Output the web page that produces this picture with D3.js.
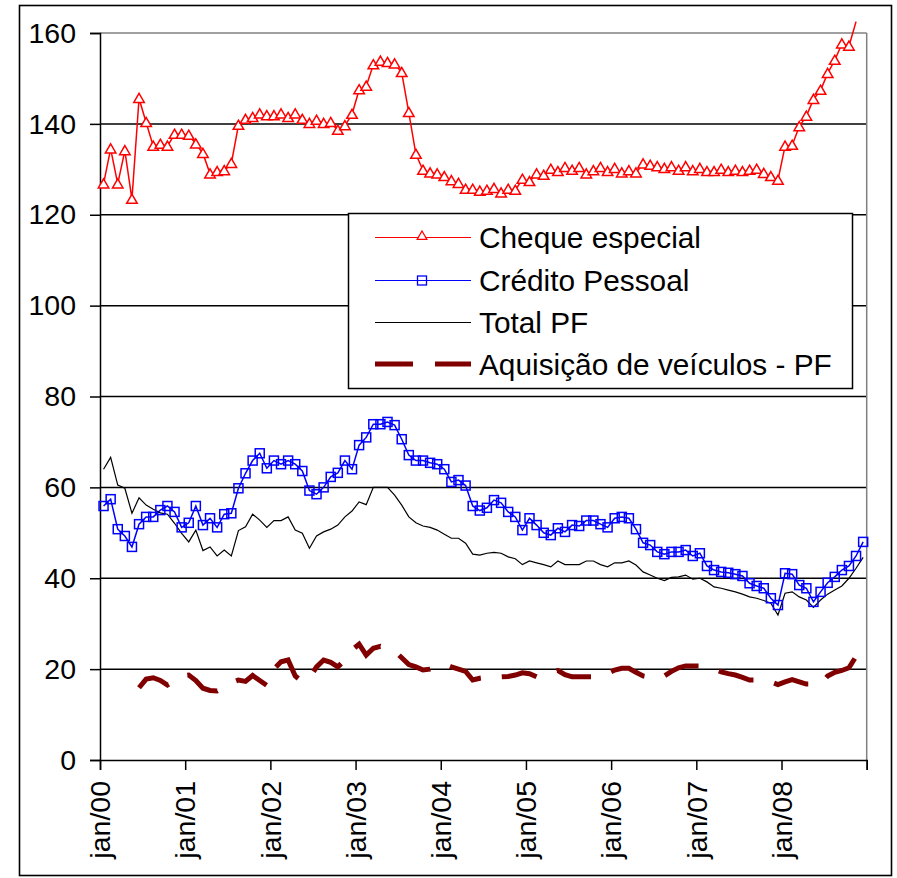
<!DOCTYPE html>
<html><head><meta charset="utf-8">
<script src="https://cdn.jsdelivr.net/npm/d3@7"></script>
<style>
html,body{margin:0;padding:0;background:#fff;}
text{font-family:"Liberation Sans",Arial,sans-serif;}
</style></head>
<body>
<svg id="chart" width="897" height="878"></svg>
<script>
// ---- data ----
const nMonths = 108;
const tickLabels = ["jan/00","jan/01","jan/02","jan/03","jan/04","jan/05","jan/06","jan/07","jan/08"];
const yTicks = [0,20,40,60,80,100,120,140,160];
const seriesNames = ["Cheque especial","Crédito Pessoal","Total PF","Aquisição de veículos - PF"];

// Cheque especial, jan/00 onward (last point beyond 160)
const chequeEspecial = [126.8,134.5,126.8,134.1,123.4,145.6,140.3,135.1,135.5,135.1,137.7,137.7,
137.5,135.6,133.5,129.0,129.5,129.7,131.3,139.7,141.0,141.4,142.2,141.8,
141.8,142.2,141.4,142.2,141.0,140.1,140.8,140.1,140.3,138.6,139.6,142.1,
147.5,148.3,153.0,153.8,153.5,153.2,151.3,142.5,133.3,129.8,129.2,129.0,
128.4,127.5,126.9,125.6,125.6,125.2,125.4,125.8,124.8,125.6,125.4,127.8,
127.3,129.0,128.7,130.0,129.5,130.4,129.8,130.4,129.0,129.7,130.4,129.5,
130.2,129.2,129.7,129.2,131.2,130.9,130.6,130.2,130.6,129.8,130.6,129.7,
130.2,129.5,129.5,130.0,129.5,129.8,129.5,129.8,130.0,129.1,128.4,127.6,
135.1,135.3,139.4,141.7,145.4,147.4,151.1,154.0,157.6,157.1,162.5];

const creditoPessoal = [55.9,57.4,50.8,49.3,46.9,51.9,53.5,53.5,55.0,55.9,54.6,51.2,
52.2,55.9,51.7,53.2,51.2,54.1,54.3,59.8,63.1,65.9,67.5,64.2,
65.9,65.1,65.9,65.1,63.6,59.3,58.5,60.0,62.3,63.2,65.9,64.0,
69.3,71.0,73.9,73.9,74.4,73.7,70.6,67.1,65.9,65.9,65.4,65.1,
64.0,61.2,61.6,60.4,55.9,54.9,55.5,57.2,56.6,54.6,53.5,50.6,
53.2,51.7,50.0,49.5,51.0,50.2,51.7,51.5,52.7,52.7,51.9,51.2,
53.2,53.5,53.2,50.8,47.8,47.3,45.8,45.3,45.8,45.8,46.2,44.9,
45.5,42.7,41.8,41.4,41.2,40.9,40.5,38.9,38.3,37.8,35.6,34.1,
41.1,40.9,38.5,37.8,34.8,37.0,39.0,40.3,41.8,42.7,44.9,48.0];

const totalPF = [64.0,66.6,60.5,59.8,54.3,57.7,56.1,55.2,54.4,54.1,52.1,49.9,
48.0,50.6,46.1,46.9,44.9,46.2,44.9,50.5,51.3,54.1,52.8,51.2,
52.7,52.7,53.5,50.6,49.9,46.6,49.3,50.2,50.8,51.7,53.5,54.8,
56.8,56.2,60.0,60.0,60.0,58.3,56.1,53.5,52.2,51.5,51.2,50.6,
49.7,48.8,48.8,47.7,45.3,45.1,45.5,45.7,45.5,44.7,44.3,43.0,
43.8,43.4,43.0,42.5,43.8,43.0,43.0,43.0,43.8,43.8,43.0,42.5,
43.4,43.4,43.8,42.9,41.4,40.7,40.0,39.5,40.2,40.3,40.7,39.8,
40.0,39.2,38.1,37.8,37.4,37.0,36.5,35.9,35.6,35.1,34.5,31.9,
36.7,37.0,35.9,35.2,33.6,35.2,36.5,37.4,38.3,40.0,42.2,44.6];

// Aquisição de veículos - PF, starting jun/00 (index 5)
const veiculosStart = 5;
const veiculosPF = [15.9,17.8,18.1,17.5,16.5,17.5,18.5,
18.7,17.5,15.8,15.3,15.2,16.0,17.0,17.6,17.3,18.6,17.5,16.4,
20.0,21.6,22.0,18.5,17.2,18.0,20.5,22.0,21.5,20.5,22.0,24.2,
25.5,23.1,24.6,25.0,24.5,24.0,22.5,21.0,20.5,19.8,20.0,20.5,
21.1,20.5,20.0,19.5,17.6,18.0,18.2,18.3,18.3,18.4,18.7,19.2,
19.0,18.3,18.5,19.0,19.7,18.8,18.3,18.3,18.3,18.3,18.5,19.0,
19.8,20.2,20.2,19.3,18.5,18.2,18.0,18.5,19.5,20.3,20.7,20.7,
20.7,20.3,20.0,19.4,19.0,18.7,18.2,17.6,17.6,17.5,17.2,16.6,
17.2,17.7,17.2,16.7,16.7,16.7,18.5,19.3,19.7,20.3,22.8,23.6];

// ---- layout ----
const svg = d3.select("#chart");
const pLeft = 100, pRight = 866.7, pTop = 33, pBottom = 760;
const fontSize = 28.5;
const legendFont = 29.8;

const x = d3.scaleLinear().domain([0, nMonths]).range([pLeft, pRight]);
const xc = i => x(i + 0.5);
const y = d3.scaleLinear().domain([0, 160]).range([pBottom, pTop]);

// outer frame
svg.append("rect").attr("x",19.5).attr("y",5.5).attr("width",872).attr("height",870)
  .attr("fill","#fff").attr("stroke","#000").attr("stroke-width",1.6);

// gridlines
const gridG = svg.append("g");
yTicks.filter(v => v > 0).forEach(v => {
  gridG.append("line").attr("x1",pLeft).attr("x2",pRight).attr("y1",y(v)).attr("y2",y(v))
    .attr("stroke", v === 160 ? "#808080" : "#000").attr("stroke-width",1.5);
});
svg.append("line").attr("x1",pRight).attr("x2",pRight).attr("y1",pTop).attr("y2",pBottom)
  .attr("stroke","#808080").attr("stroke-width",1.5);

// y axis
const yAxis = d3.axisLeft(y).tickValues(yTicks).tickSize(10).tickPadding(14).tickFormat(d3.format("d"));
const yg = svg.append("g").attr("transform",`translate(${pLeft},0)`).call(yAxis);
yg.select(".domain").attr("stroke","#000").attr("stroke-width",1.5);
yg.selectAll(".tick line").attr("stroke","#000").attr("stroke-width",1.5);
yg.selectAll(".tick text").attr("font-size",fontSize).attr("fill","#000")
  .attr("font-family","Liberation Sans, Arial, sans-serif");

// x axis
const xTickVals = d3.range(0, nMonths + 1, 12);
const xAxis = d3.axisBottom(x).tickValues(xTickVals).tickSize(10).tickFormat(() => "");
const xg = svg.append("g").attr("transform",`translate(0,${pBottom})`).call(xAxis);
xg.select(".domain").attr("stroke","#000").attr("stroke-width",1.5);
xg.selectAll(".tick line").attr("stroke","#000").attr("stroke-width",1.5);
xg.selectAll(".tick text").remove();
tickLabels.forEach((lab, k) => {
  const tx = x(k * 12);
  svg.append("text").attr("transform",`translate(${tx},781) rotate(-90)`)
    .attr("text-anchor","end").attr("dy","0.36em")
    .attr("font-size",fontSize).attr("fill","#000").text(lab);
});

// lines
const line = d3.line().x(d => xc(d.i)).y(d => y(d.v));
const toPts = (arr, start=0) => arr.map((v, k) => ({i: k + start, v}));

const vPts = toPts(veiculosPF, veiculosStart);
const tPts = toPts(totalPF);
const cPts = toPts(creditoPessoal);
const chPts = toPts(chequeEspecial);

svg.append("path").datum(chPts).attr("d",line).attr("fill","none")
  .attr("stroke","#FF0000").attr("stroke-width",1.5);
svg.append("path").datum(cPts).attr("d",line).attr("fill","none")
  .attr("stroke","#0000FF").attr("stroke-width",1.5);
svg.append("path").datum(tPts).attr("d",line).attr("fill","none")
  .attr("stroke","#000").attr("stroke-width",1.2);
svg.append("path").datum(vPts).attr("d",line).attr("fill","none")
  .attr("stroke","#800000").attr("stroke-width",5).attr("stroke-dasharray","36,21");

// markers
const tri = d3.symbol().type(d3.symbolTriangle).size(48);
svg.append("g").selectAll("path").data(chPts.filter(d => d.v <= 160)).join("path")
  .attr("d", tri).attr("transform", d => `translate(${xc(d.i)},${y(d.v)+1})`)
  .attr("fill","#fff").attr("stroke","#FF0000").attr("stroke-width",1.5);
svg.append("g").selectAll("rect").data(cPts).join("rect")
  .attr("x", d => xc(d.i) - 4.5).attr("y", d => y(d.v) - 4.5)
  .attr("width",9).attr("height",9)
  .attr("fill","none").attr("stroke","#0000FF").attr("stroke-width",1.5);

// legend
const lg = svg.append("g");
lg.append("rect").attr("x",348.5).attr("y",213.5).attr("width",504).attr("height",175)
  .attr("fill","#fff").attr("stroke","#000").attr("stroke-width",1.5);
const ly = [237.5, 280.5, 322.5, 364];
const lx1 = 375, lx2 = 471, lmid = 422, ltx = 479;
lg.append("line").attr("x1",lx1).attr("x2",lx2).attr("y1",ly[0]).attr("y2",ly[0])
  .attr("stroke","#FF0000").attr("stroke-width",1.2);
lg.append("path").attr("d", d3.symbol().type(d3.symbolTriangle).size(40))
  .attr("transform",`translate(${lmid},${ly[0]-1})`)
  .attr("fill","#fff").attr("stroke","#FF0000").attr("stroke-width",1.3);
lg.append("line").attr("x1",lx1).attr("x2",lx2).attr("y1",ly[1]).attr("y2",ly[1])
  .attr("stroke","#0000FF").attr("stroke-width",1.2);
lg.append("rect").attr("x",lmid-4.5).attr("y",ly[1]-4.5).attr("width",9).attr("height",9)
  .attr("fill","none").attr("stroke","#0000FF").attr("stroke-width",1.3);
lg.append("line").attr("x1",lx1).attr("x2",lx2).attr("y1",ly[2]).attr("y2",ly[2])
  .attr("stroke","#000").attr("stroke-width",1.2);
lg.append("line").attr("x1",lx1).attr("x2",lx2).attr("y1",ly[3]).attr("y2",ly[3])
  .attr("stroke","#800000").attr("stroke-width",5).attr("stroke-dasharray","38,22");
seriesNames.forEach((n, k) => {
  lg.append("text").attr("x",ltx).attr("y",ly[k]).attr("dy","0.36em")
    .attr("font-size",legendFont).attr("fill","#000").text(n);
});
</script>
</body></html>
